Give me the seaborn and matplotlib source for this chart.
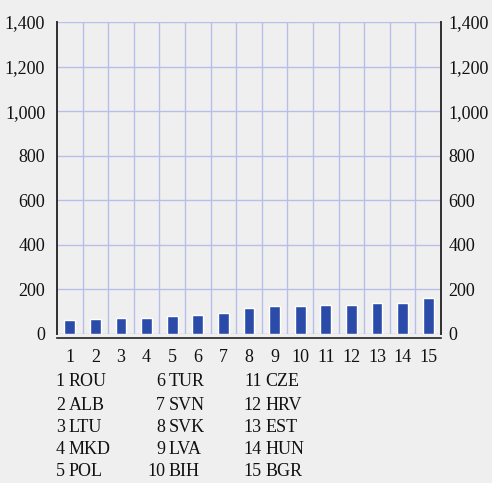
import matplotlib
matplotlib.use("Agg")
import matplotlib.pyplot as plt
import matplotlib.ticker as mticker
import seaborn as sns
import pandas as pd

# Country ranking, smallest to largest value
ranks = list(range(1, 16))
codes = ["ROU", "ALB", "LTU", "MKD", "POL", "TUR", "SVN", "SVK",
         "LVA", "BIH", "CZE", "HRV", "EST", "HUN", "BGR"]
values = [62, 67, 72, 72, 79, 87, 94, 117, 124, 124, 129, 129, 138, 138, 160]
yticks = [0, 200, 400, 600, 800, 1000, 1200, 1400]

BG = "#efefef"
BAR = "#2b4ba8"
GRID = "#b9bde9"
FONT = "Liberation Serif"
FS = 13

sns.set_theme(style="white")
plt.rcParams["font.family"] = [FONT, "DejaVu Serif"]
plt.rcParams["font.size"] = FS

W, H = 492, 483
fig = plt.figure(figsize=(W / 100, H / 100), dpi=100, facecolor=BG)
ax = fig.add_axes([57 / W, 1 - 334 / H, (441 - 57) / W, (334 - 22) / H])
ax.set_facecolor(BG)

df = pd.DataFrame({"rank": [str(r) for r in ranks], "value": values})
sns.barplot(data=df, x="rank", y="value", ax=ax, color=BAR, saturation=1,
            width=0.42, edgecolor="white", linewidth=1.0, zorder=3)

ax.set_xlim(-0.5, len(ranks) - 0.5)
ax.set_ylim(0, 1400)
ax.set_xlabel("")
ax.set_ylabel("")

fmt = mticker.FuncFormatter(lambda v, p: f"{int(v):,}")

# horizontal grid on y ticks, vertical grid on category boundaries
ax.set_yticks(yticks)
ax.yaxis.set_major_formatter(fmt)
ax.set_xticks(range(len(ranks)))
ax.set_xticks([i - 0.5 for i in range(len(ranks) + 1)], minor=True)
ax.grid(False)
ax.yaxis.grid(True, color=GRID, linewidth=1.0, zorder=0)
for xb in [i + 0.5 for i in range(len(ranks) - 1)]:
    ax.axvline(xb, color=GRID, linewidth=1.0, zorder=0)

ax.tick_params(axis="y", which="both", length=0, pad=8.5, labelsize=FS,
               colors="#111111")
ax.tick_params(axis="x", which="major", length=0, pad=8, labelsize=FS,
               colors="#111111")
ax.tick_params(axis="x", which="minor", length=4, width=1.2, color="#222222",
               direction="out")

# same value scale repeated on the right
ax2 = ax.twinx()
ax2.set_ylim(ax.get_ylim())
ax2.set_yticks(yticks)
ax2.yaxis.set_major_formatter(fmt)
ax2.tick_params(axis="y", length=0, pad=5.5, labelsize=FS, colors="#111111")
ax2.grid(False)

for a in (ax, ax2):
    a.spines["top"].set_visible(False)
    a.spines["bottom"].set_visible(False)
    for side in ("left", "right"):
        a.spines[side].set_color("#333333")
        a.spines[side].set_linewidth(1.3)
ax.spines["bottom"].set_visible(True)
ax.spines["bottom"].set_color("#222222")
ax.spines["bottom"].set_linewidth(1.2)
ax.spines["bottom"].set_position(("outward", 3))

# key of rank numbers to country codes, three columns of five
col_num_right = [65, 165, 262]
row_y = [382, 405, 427, 450, 472]
for i, (r, c) in enumerate(zip(ranks, codes)):
    col, row = divmod(i, 5)
    xr = col_num_right[col]
    y = 1 - row_y[row] / H
    fig.text(xr / W, y, str(r), ha="right", va="center", fontsize=FS,
             family=FONT, color="#111111")
    fig.text((xr + 3.5) / W, y, c, ha="left", va="center", fontsize=FS,
             family=FONT, color="#111111")

fig.savefig("out.png", dpi=100, facecolor=BG)
